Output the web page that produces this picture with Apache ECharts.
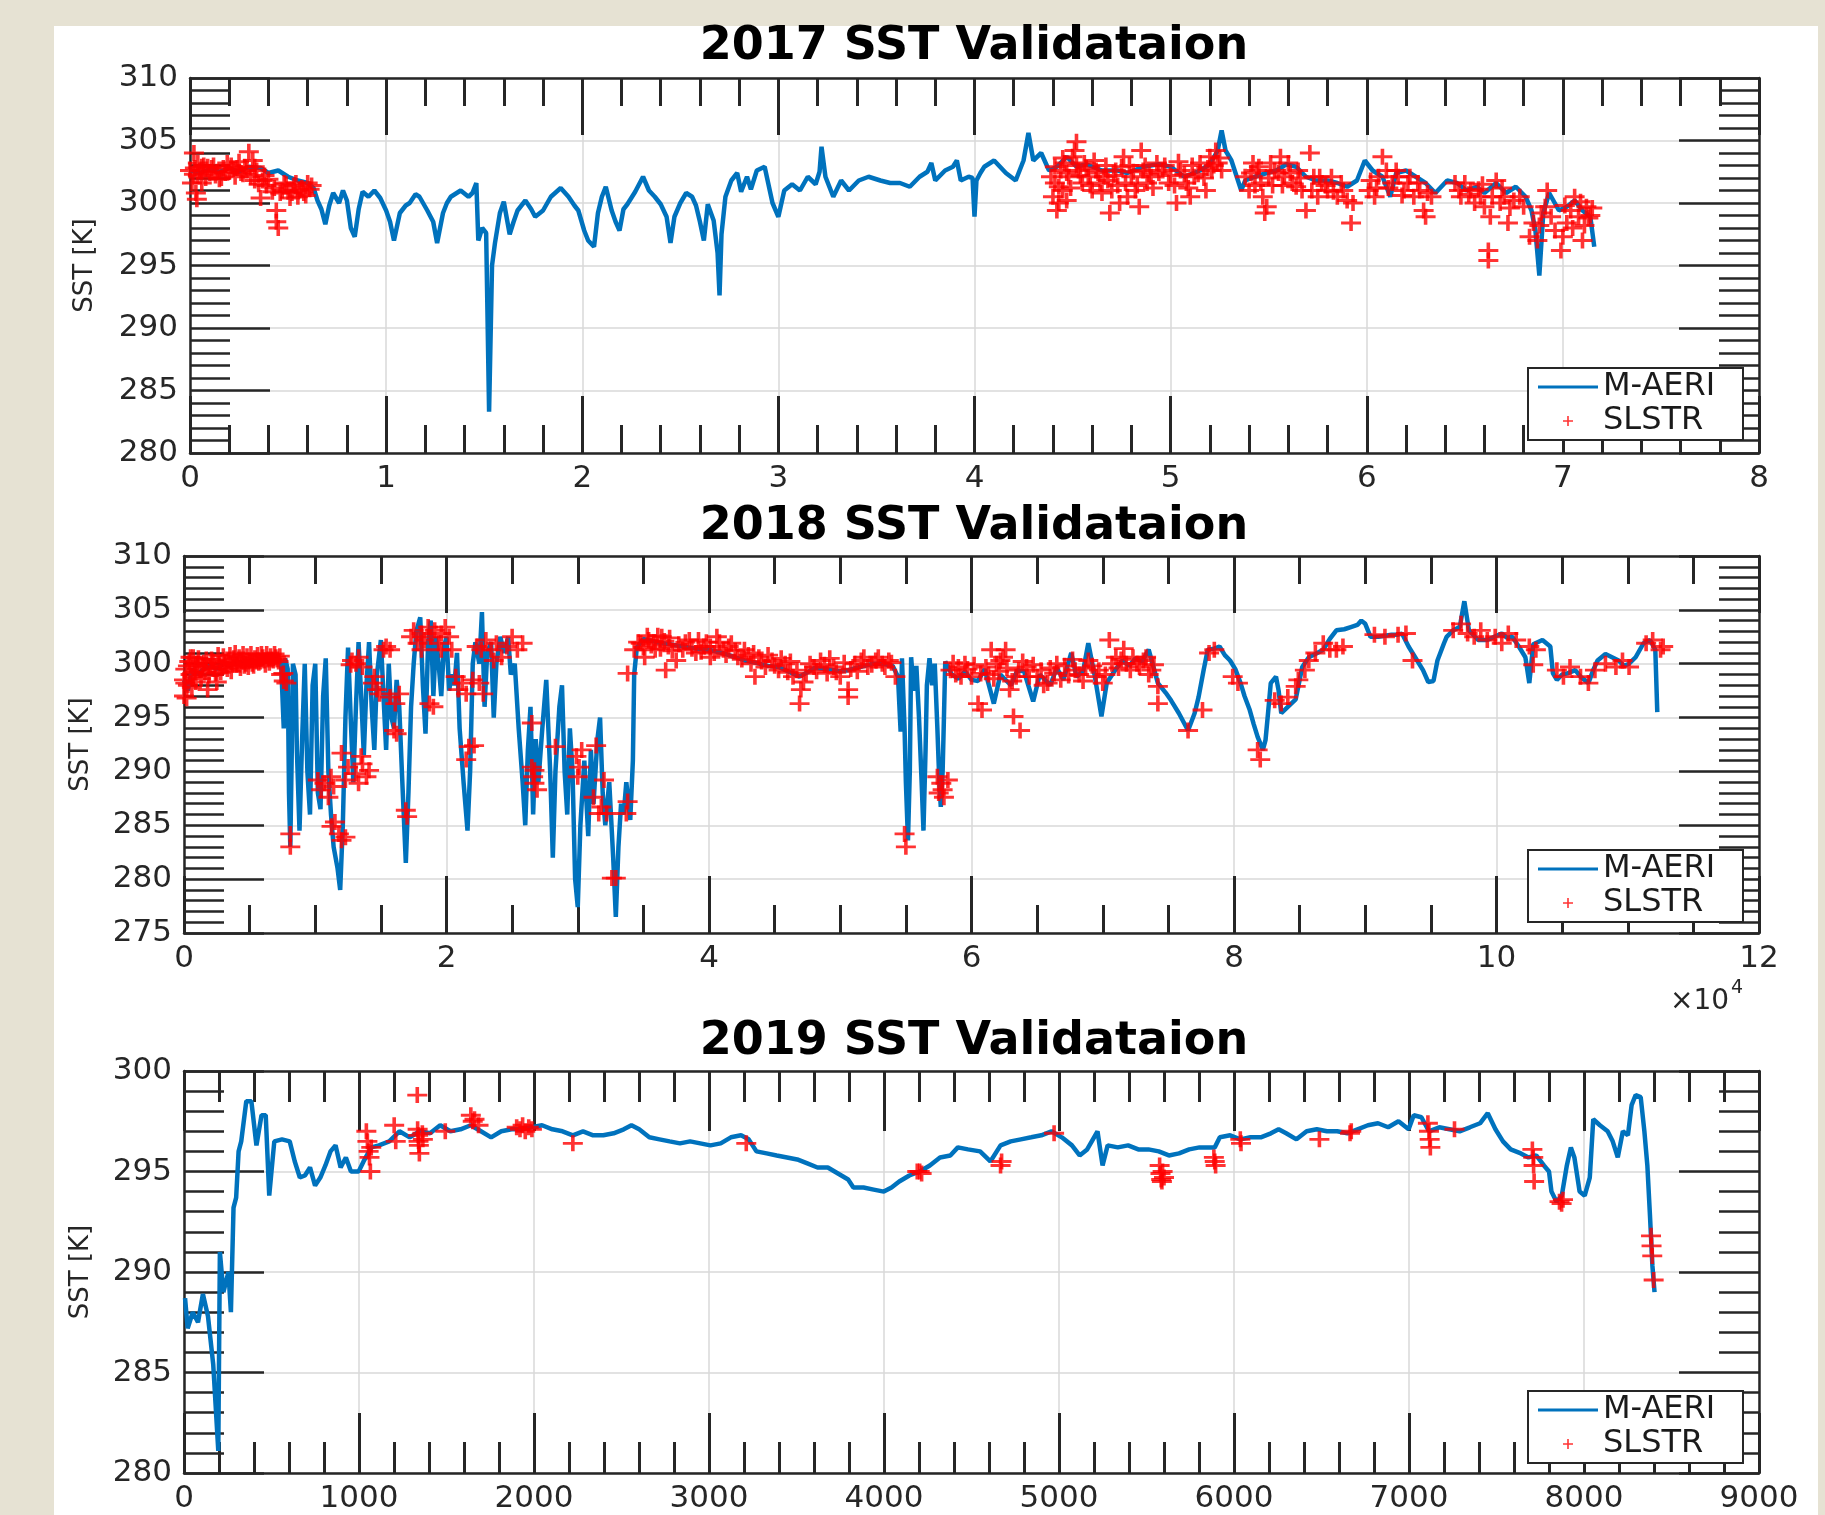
<!DOCTYPE html>
<html lang="en">
<head>
<meta charset="UTF-8">
<title>SST Validataion</title>
<script src="https://cdn.jsdelivr.net/npm/echarts@6/dist/echarts.min.js"></script>
<style>
html,body{margin:0;padding:0;background:#e6e2d3;}
#panel{position:absolute;left:54px;top:26px;width:1764px;height:1489px;background:#fff;}
#main{position:absolute;left:0;top:0;width:1825px;height:1515px;}
</style>
</head>
<body>
<div id="panel"></div>
<div id="main"></div>
<script>
var titles = ['2017 SST Validataion', '2018 SST Validataion', '2019 SST Validataion'];
var seriesNames = ['M-AERI', 'SLSTR'];

// x ranges [min, max, interval], y ranges [min, max, interval]
var xRanges = [[0, 8, 1], [0, 12, 2], [0, 9000, 1000]];
var yRanges = [[280, 310, 5], [275, 310, 5], [280, 300, 5]];
var xMinorSplits = [5, 4, 5];

// 2017 (x in units of 1e4)
var aeri2017 = [[0,302.6],[0.05,302.4],[0.1,302.7],[0.15,302.5],[0.2,302.8],[0.25,302.5],[0.3,302.9],[0.36,302.8],[0.4,302.4],[0.45,302.6],[0.5,302.1],[0.55,301.8],[0.6,301.6],[0.63,301.2],[0.65,300.2],[0.67,299.5],[0.69,298.3],[0.71,299.8],[0.73,300.8],[0.76,300],[0.78,301],[0.8,300.2],[0.82,298],[0.84,297.3],[0.86,299.5],[0.88,300.9],[0.91,300.5],[0.94,301],[0.97,300.4],[1.0,299.4],[1.02,298.5],[1.04,297],[1.07,299.2],[1.1,299.8],[1.12,300],[1.15,300.7],[1.17,300.5],[1.21,299.4],[1.24,298.5],[1.26,296.8],[1.29,299.2],[1.31,300],[1.33,300.5],[1.36,300.8],[1.38,301],[1.42,300.5],[1.44,300.8],[1.46,301.6],[1.47,297],[1.49,298],[1.51,297.6],[1.525,283.3],[1.54,295],[1.555,296.8],[1.58,299.2],[1.6,300.1],[1.63,297.5],[1.65,298.5],[1.67,299.4],[1.71,300.2],[1.74,299.5],[1.76,298.9],[1.8,299.4],[1.84,300.5],[1.89,301.2],[1.93,300.5],[1.96,299.8],[1.98,299.4],[2.01,297.8],[2.03,297],[2.06,296.5],[2.08,299.2],[2.1,300.5],[2.12,301.3],[2.15,299.4],[2.17,298.5],[2.19,297.8],[2.21,299.5],[2.23,299.9],[2.27,300.9],[2.31,302.1],[2.34,301],[2.37,300.5],[2.4,299.9],[2.43,298.9],[2.45,296.8],[2.47,298.9],[2.5,300],[2.53,300.8],[2.56,300.5],[2.58,299.8],[2.6,298.5],[2.62,297],[2.64,299.9],[2.67,298.6],[2.69,296],[2.7,292.6],[2.71,297.5],[2.73,300.5],[2.76,301.8],[2.79,302.4],[2.81,300.9],[2.84,302.1],[2.86,301.1],[2.89,302.6],[2.93,302.9],[2.97,300],[3.0,298.9],[3.03,301],[3.07,301.5],[3.11,301],[3.15,302.1],[3.19,301.5],[3.21,302.5],[3.22,304.5],[3.24,302.1],[3.28,300.5],[3.32,301.8],[3.36,301],[3.41,301.8],[3.46,302.1],[3.52,301.8],[3.57,301.6],[3.62,301.6],[3.67,301.3],[3.72,302.1],[3.76,302.5],[3.78,303.2],[3.8,301.8],[3.85,302.6],[3.89,302.9],[3.91,303.4],[3.93,301.8],[3.97,302.1],[3.99,302],[4.0,298.9],[4.01,301.8],[4.03,302.4],[4.05,302.9],[4.1,303.4],[4.16,302.4],[4.21,301.8],[4.25,303.4],[4.275,305.6],[4.3,303.4],[4.34,304],[4.38,302.6],[4.42,302.9],[4.47,303.7],[4.52,302.9],[4.57,303.1],[4.65,302.6],[4.73,302.6],[4.78,302.4],[4.86,302.9],[4.94,303.1],[5.0,302.9],[5.07,302.1],[5.15,302.6],[5.2,303.1],[5.24,304.2],[5.26,305.8],[5.28,304.2],[5.31,303.4],[5.36,301],[5.38,301.8],[5.43,302.1],[5.49,302.4],[5.54,302.6],[5.59,303.1],[5.64,302.9],[5.69,302.1],[5.74,301.8],[5.8,301.8],[5.85,301.6],[5.9,301.3],[5.95,301.8],[5.99,303.4],[6.03,302.6],[6.08,302.1],[6.12,300.5],[6.15,302.4],[6.2,302.6],[6.25,302.1],[6.3,301.6],[6.35,300.8],[6.41,301.8],[6.46,301.6],[6.51,301],[6.56,301.3],[6.6,300.8],[6.66,301.6],[6.71,300.8],[6.76,301.3],[6.81,300.5],[6.84,299.4],[6.86,297.8],[6.88,294.2],[6.9,299.2],[6.93,300.8],[6.98,299.4],[7.02,299.7],[7.06,300.2],[7.1,299.4],[7.14,298.9],[7.16,296.5]];

var slstr2017 = [[0.0,302.6],[0.01,301.6],[0.02,304.0],[0.025,302.8],[0.03,300.8],[0.035,300.3],[0.04,302.2],[0.05,302.6],[0.06,301.6],[0.07,303.0],[0.09,302.9],[0.1,302.4],[0.12,303.0],[0.13,302.2],[0.15,301.9],[0.17,302.8],[0.19,303.2],[0.2,302.5],[0.22,302.7],[0.25,303.3],[0.27,302.3],[0.28,302.9],[0.3,304.1],[0.31,302.1],[0.32,303.4],[0.33,301.8],[0.34,302.6],[0.35,301.5],[0.36,300.4],[0.38,302.2],[0.4,301.9],[0.43,301.2],[0.44,299.4],[0.44,298.5],[0.45,298.0],[0.46,300.8],[0.48,301.6],[0.5,300.9],[0.51,300.4],[0.53,301.4],[0.55,300.5],[0.57,301.2],[0.59,300.6],[0.61,301.1],[0.62,301.4],
[0.02,302.3],[0.04,303.2],[0.06,302.9],[0.08,302.0],[0.11,302.8],[0.14,302.5],[0.16,302.0],[0.18,302.4],[0.21,303.0],[0.23,302.1],[0.24,302.8],[0.26,302.4],[0.29,302.6],[0.33,302.9],[0.37,301.8],[0.39,301.4],[0.42,300.9],[0.47,301.0],[0.49,301.5],[0.52,300.8],[0.54,301.6],[0.56,301.0],[0.58,300.8],[0.6,301.6],
[4.39,302.1],[4.4,300.5],[4.41,301.6],[4.42,299.4],[4.43,300.0],[4.44,302.6],[4.45,301.0],[4.46,303.2],[4.47,300.2],[4.48,302.1],[4.5,303.7],[4.51,304.2],[4.52,304.9],[4.53,302.6],[4.55,301.6],[4.56,303.2],[4.58,302.1],[4.6,301.0],[4.62,302.6],[4.64,301.6],[4.66,302.1],[4.69,299.2],[4.7,301.0],[4.72,302.6],[4.74,300.0],[4.76,303.7],[4.77,301.6],[4.78,300.5],[4.8,302.1],[4.82,301.0],[4.84,299.7],[4.85,304.2],[4.86,302.6],[4.88,301.6],[4.9,302.1],[4.93,303.2],[4.96,302.6],[4.99,301.6],[5.03,300.0],[5.05,302.6],[5.08,301.6],[5.1,300.5],[5.12,302.1],[5.15,303.2],[5.18,301.0],[5.2,303.7],[5.21,302.6],[5.23,304.2],[5.24,303.2],[5.26,302.6],[5.38,302.1],[5.4,301.0],[5.42,303.2],[5.44,302.6],[5.46,301.6],[5.47,300.5],[5.48,299.2],[5.49,299.7],[5.51,303.2],[5.53,302.6],[5.56,303.7],[5.58,302.1],[5.6,303.2],[5.62,301.6],[5.65,302.6],[5.67,301.0],[5.69,299.4],[5.71,304.0],[5.73,302.1],[5.75,300.5],[5.77,301.6],[5.8,301.0],[5.82,302.1],[5.85,300.5],[5.88,301.0],[5.9,300.2],[5.92,298.4],[5.93,300.0],[6.01,301.0],[6.04,300.5],[6.06,302.1],[6.08,303.7],[6.1,302.6],[6.13,301.6],[6.16,302.1],[6.19,301.0],[6.21,301.6],[6.24,300.5],[6.27,301.0],[6.29,299.4],[6.3,298.9],[6.33,300.5],[6.45,301.6],[6.48,300.5],[6.5,301.6],[6.53,301.0],[6.55,300.0],[6.58,300.5],[6.6,299.7],[6.62,296.2],[6.62,295.4],[6.63,298.9],[6.64,300.5],[6.66,301.8],[6.68,300.0],[6.7,300.5],[6.72,298.4],[6.75,300.2],[6.8,299.7],[6.83,297.3],[6.85,298.4],[6.87,297.0],[6.89,299.2],[6.92,301.0],[6.94,298.9],[6.96,297.8],[6.99,296.2],[7.0,297.3],[7.02,298.4],[7.04,299.4],[7.06,300.5],[7.08,298.9],[7.1,297.0],[7.12,299.7],[7.14,299.0],
[4.41,302.9],[4.43,301.3],[4.45,303.6],[4.47,302.4],[4.49,301.2],[4.52,303.0],[4.54,302.2],[4.57,302.8],[4.59,301.4],[4.61,303.4],[4.63,302.4],[4.65,300.8],[4.67,303.0],[4.68,301.8],[4.71,302.2],[4.73,301.4],[4.75,302.9],[4.79,303.0],[4.81,302.5],[4.83,301.4],[4.87,303.0],[4.89,302.3],[4.91,301.2],[4.94,302.4],[4.97,303.0],[5.0,302.2],[5.02,301.4],[5.04,303.3],[5.07,302.3],[5.09,301.2],[5.11,303.0],[5.14,302.3],[5.17,302.0],[5.19,302.8],[5.22,303.0],[5.25,303.6],[5.41,302.4],[5.43,301.4],[5.45,302.9],[5.5,302.0],[5.52,301.4],[5.55,302.4],[5.57,301.4],[5.61,302.4],[5.64,301.3],[5.66,302.0],[5.72,301.0],[5.76,302.1],[5.79,301.4],[5.83,300.9],[5.87,301.6],[6.02,301.8],[6.05,301.2],[6.11,301.2],[6.15,302.6],[6.18,300.6],[6.22,302.1],[6.26,301.6],[6.31,300.8],[6.47,301.0],[6.52,300.7],[6.57,301.1],[6.59,301.5],[6.69,301.2],[6.73,299.6],[6.78,300.5],[6.88,298.2],[6.91,299.7],[7.01,299.8],[7.05,298.0],[7.09,300.1],[7.11,298.2],[7.13,298.8],[7.15,299.6]];

// 2018 (x in units of 1e4)
var aeri2018 = [[0,298.5],[0.03,297.5],[0.06,299.5],[0.1,299],[0.15,299.5],[0.2,299.8],[0.25,299.5],[0.3,300],[0.35,299.8],[0.4,300.2],[0.45,300],[0.5,300.3],[0.55,300.2],[0.6,300.5],[0.65,300.3],[0.7,300.5],[0.74,300],
[0.76,294],[0.77,300.5],[0.79,299.5],[0.8,288],[0.81,283],[0.82,291],[0.83,300],[0.85,299],[0.86,292],[0.88,284.5],[0.9,293],[0.92,300],[0.94,290],[0.96,286],[0.98,298],[1.0,300],[1.02,288],[1.04,286.5],[1.06,297],[1.08,300.5],[1.1,290],[1.12,286],[1.14,283],[1.17,281],[1.19,279],[1.21,285],[1.23,295],[1.25,301.5],[1.27,295],[1.29,289],[1.31,296],[1.33,302],[1.35,297],[1.37,291.5],[1.39,298],[1.41,302],[1.43,296],[1.45,292],[1.47,299],[1.5,302.2],[1.52,297],[1.54,292],[1.56,300],[1.58,295],[1.6,294],[1.62,298.5],[1.64,296],[1.66,290],[1.69,281.5],[1.71,288],[1.73,296],[1.75,300],[1.77,303],[1.8,304.3],[1.82,298],[1.84,293.5],[1.86,302],[1.88,304],[1.9,297],[1.92,302.5],[1.94,300],[1.96,297],[1.98,301.5],[2.0,302.5],[2.02,297.5],[2.04,299],[2.06,298],[2.08,301],[2.1,294],[2.13,289],[2.16,284.5],[2.18,290],[2.2,300],[2.22,302],[2.25,300],[2.27,304.8],[2.29,296],[2.31,301],[2.34,302],[2.36,295],[2.38,300],[2.41,302.5],[2.44,301],[2.47,302.5],[2.49,299],[2.52,300],[2.55,294],[2.58,289],[2.6,285],[2.62,292],[2.64,296],[2.66,286],[2.68,293],[2.7,289],[2.73,294],[2.76,298.5],[2.79,290],[2.81,282],[2.83,290],[2.86,296],[2.88,298],[2.9,290],[2.92,286],[2.94,294],[2.96,290],[2.98,280],[3.0,277.4],[3.02,285],[3.05,291],[3.08,284],[3.1,292],[3.12,287],[3.15,293],[3.17,295],[3.19,288],[3.21,285],[3.24,289],[3.27,282],[3.29,276.5],[3.31,283],[3.33,287],[3.35,286],[3.37,289],[3.4,285.5],[3.42,291],[3.43,299],
[3.45,301.5],[3.5,302.3],[3.6,302],[3.7,301.8],[3.8,301.6],[3.9,301.4],[4.0,301.3],[4.1,301],[4.2,300.6],[4.27,300.3],[4.35,300.1],[4.45,299.8],[4.53,299.7],[4.6,299.3],[4.69,298.8],[4.75,299.2],[4.8,299.6],[4.9,299.5],[5.0,299.3],[5.06,299.4],[5.15,299.7],[5.25,300],[5.32,300],[5.4,299.8],[5.44,298.8],
[5.46,293.7],[5.47,300.5],[5.49,294],[5.5,289],[5.516,283.6],[5.53,290],[5.54,300.6],[5.56,297.5],[5.58,299.8],[5.6,295],[5.62,289],[5.634,284.5],[5.65,292],[5.66,298],[5.68,300.5],[5.7,298],[5.72,300],[5.74,294],[5.755,289],[5.766,286.7],[5.78,290],[5.79,295],[5.8,300.2],
[5.85,299],[5.9,298.6],[5.95,299.3],[6.0,298.5],[6.05,298.4],[6.1,299.5],[6.17,296.3],[6.22,299],[6.3,298],[6.35,299.4],[6.4,299.3],[6.47,296.5],[6.52,299],[6.6,298],[6.65,299.6],[6.7,298.5],[6.76,301],[6.8,298.8],[6.85,299.3],[6.89,301.9],[6.94,298.8],[6.99,295.1],[7.03,298.2],[7.1,299.5],[7.15,300.3],[7.2,299.8],[7.25,300.5],[7.3,300.2],[7.35,301.3],[7.42,298.2],[7.48,297.3],[7.52,296.6],[7.58,295.4],[7.65,293.8],[7.7,295.4],[7.73,296.9],[7.77,299.5],[7.8,301.3],[7.85,301.4],[7.89,301.6],[7.93,300.8],[7.97,300.3],[8.01,299.5],[8.05,298.2],[8.08,297],[8.12,295.7],[8.15,294.4],[8.18,293.2],[8.22,292],[8.24,292.9],[8.26,295.5],[8.28,298.2],[8.32,298.8],[8.34,297.5],[8.36,295.4],[8.41,296],[8.47,296.7],[8.52,299.7],[8.57,300.6],[8.62,300.9],[8.68,301.3],[8.73,302.3],[8.78,303.1],[8.84,303.2],[8.89,303.4],[8.94,303.6],[8.97,304],[9.0,303.7],[9.04,302.5],[9.1,302.5],[9.15,302.6],[9.2,302.7],[9.25,302.7],[9.28,302.8],[9.33,301.6],[9.38,300.6],[9.44,299.4],[9.48,298.3],[9.52,298.4],[9.55,300.3],[9.6,301.9],[9.62,302.5],[9.67,303.1],[9.72,303.4],[9.755,305.8],[9.79,303.1],[9.86,302.2],[9.93,302.2],[10.0,302.6],[10.04,302.8],[10.08,302.4],[10.12,302.5],[10.17,301.6],[10.22,300.6],[10.25,298.2],[10.28,301.8],[10.35,302.2],[10.41,301.6],[10.43,299.1],[10.46,298.5],[10.5,299],[10.54,299.1],[10.6,299.4],[10.64,298.8],[10.7,298.2],[10.74,299.5],[10.77,300.3],[10.83,300.9],[10.88,300.6],[10.93,300.3],[10.97,299.8],[11.01,300],[11.06,300.6],[11.12,301.9],[11.17,302.2],[11.21,301.3],[11.225,295.5]];

var slstr2018 = [[0.0,297.0],[0.0,298.5],[0.01,299.5],[0.02,296.8],[0.03,298.0],[0.04,300.2],[0.05,299.0],[0.06,297.8],[0.07,300.6],[0.08,299.2],[0.09,298.3],[0.1,300.0],[0.12,299.4],[0.13,298.6],[0.15,300.1],[0.16,299.2],[0.18,297.6],[0.2,299.8],[0.21,300.4],[0.23,299.5],[0.25,298.3],[0.27,300.0],[0.29,299.6],[0.3,300.7],[0.32,299.8],[0.34,300.3],[0.36,299.3],[0.38,300.5],[0.4,299.9],[0.42,300.6],[0.44,300.2],[0.46,299.8],[0.48,300.7],[0.5,300.3],[0.52,300.0],[0.54,300.5],[0.56,300.8],[0.58,300.2],[0.6,300.6],[0.62,299.9],[0.64,300.4],[0.66,300.7],[0.68,300.3],[0.7,300.6],[0.72,300.2],[0.74,299.0],[0.76,298.4],
[0.01,298.2],[0.03,299.8],[0.05,300.6],[0.07,298.8],[0.09,299.8],[0.11,300.5],[0.14,299.7],[0.17,300.4],[0.19,298.9],[0.22,300.2],[0.24,299.1],[0.26,300.8],[0.28,299.2],[0.31,300.1],[0.33,299.5],[0.35,300.8],[0.37,299.9],[0.39,301.0],[0.41,300.0],[0.43,299.6],[0.45,300.9],[0.47,300.0],[0.49,299.7],[0.51,300.9],[0.53,299.8],[0.55,300.2],[0.57,300.1],[0.59,300.9],[0.61,300.3],[0.63,300.9],[0.65,300.1],[0.67,300.4],[0.69,300.9],[0.71,300.4],[0.73,300.7],
[0.757,299.1],[0.78,298.2],[0.81,284.2],[0.81,283.0],[1.02,289.2],[1.045,288.3],[1.07,288.9],[1.1,287.6],[1.12,289.5],[1.14,288.6],[1.124,284.9],[1.18,284.2],[1.23,283.9],[1.15,285.3],[1.2,283.6],[1.2,291.7],[1.25,290.4],[1.31,289.8],[1.36,290.7],[1.39,289.5],[1.33,288.9],[1.41,290.1],[1.35,291.4],[1.23,289.2],[1.28,300.3],[1.31,300.0],[1.33,300.6],[1.36,299.7],[1.27,299.9],[1.44,298.2],[1.47,297.6],[1.49,297.2],[1.45,298.8],[1.54,301.6],[1.57,301.3],[1.52,301.3],[1.57,296.9],[1.61,296.3],[1.64,297.2],[1.6,293.8],[1.62,293.5],[1.69,286.4],[1.7,285.8],
[1.73,302.5],[1.75,303.1],[1.78,301.9],[1.81,302.8],[1.83,302.2],[1.86,303.4],[1.88,302.5],[1.91,303.1],[1.94,301.9],[1.96,302.8],[1.99,303.4],[2.02,302.5],[2.04,301.3],[1.81,301.3],[1.96,301.3],[1.87,296.3],[1.9,296.0],[2.07,298.8],[2.09,297.6],[2.12,298.2],[2.15,297.2],[2.2,298.5],[2.25,298.2],[2.28,297.2],[2.17,292.3],[2.15,291.1],[2.21,292.4],
[2.23,301.6],[2.265,301.3],[2.3,302.2],[2.34,301.3],[2.38,301.9],[2.42,300.6],[2.46,301.6],[2.5,302.5],[2.54,301.3],[2.58,301.9],[2.36,300.3],[2.65,294.5],[2.65,290.4],[2.66,289.5],[2.67,288.9],[2.69,288.3],[2.67,290.1],[2.83,292.3],[2.99,291.4],[3.01,290.4],[3.0,289.5],[3.03,292.0],[3.12,287.6],[3.16,286.1],[3.14,292.4],[3.2,289.2],[3.22,286.1],[3.18,286.7],[3.26,280.1],[3.29,280.1],[3.37,286.1],[3.38,287.2],[3.38,299.1],
[3.43,301.3],[3.48,301.9],[3.54,302.2],[3.59,301.3],[3.64,302.5],[3.69,301.6],[3.75,300.3],[3.8,301.3],[3.85,302.2],[3.9,301.0],[3.96,301.6],[4.01,300.6],[3.51,300.6],[3.67,299.4],
[3.46,302.0],[3.5,301.5],[3.53,302.6],[3.56,301.7],[3.58,302.0],[3.61,302.6],[3.63,301.4],[3.66,302.1],[3.7,302.4],[3.72,301.2],[3.77,301.8],[3.82,302.0],[3.87,301.4],[3.92,302.2],[3.94,301.1],[3.98,302.0],[4.04,301.0],[4.08,302.0],[4.13,300.8],[4.15,301.6],[4.2,301.2],[4.25,300.4],[4.3,300.8],[4.34,301.0],[4.4,300.2],[4.45,300.8],[4.5,299.8],[4.55,300.5],[4.6,299.2],[4.62,300.2],[4.67,299.4],[4.72,298.3],[4.77,300.0],[4.82,299.3],[4.88,299.9],[4.92,300.5],[4.97,299.2],[5.03,300.1],[5.08,299.5],[5.13,299.3],[5.18,300.6],[5.24,299.9],[5.29,300.6],[5.34,299.7],[5.39,300.1],
[4.01,301.6],[4.06,302.5],[4.11,301.3],[4.17,301.9],[4.22,300.6],[4.27,301.3],[4.32,300.0],[4.35,298.8],[4.38,300.6],[4.43,299.7],[4.48,300.3],[4.53,299.4],[4.58,300.0],[4.64,298.8],[4.69,296.3],[4.7,297.6],[4.74,299.1],[4.8,299.7],[4.85,300.3],[4.9,299.1],[4.95,299.7],[5.0,298.8],[5.06,297.6],[5.06,296.9],[5.11,300.0],[5.16,300.3],[5.21,299.7],[5.27,300.3],[5.32,300.0],[5.37,300.3],[5.42,298.8],[5.49,284.2],[5.5,283.0],
[5.74,289.5],[5.77,288.9],[5.79,287.6],[5.78,288.3],[5.82,289.2],[5.75,288.0],
[5.84,299.4],[5.9,299.7],[5.95,300.0],[6.0,298.8],[6.05,296.3],[6.08,295.7],[6.11,299.7],[6.15,301.3],[6.19,300.0],[6.24,300.6],[6.26,301.3],[6.29,297.6],[6.32,295.1],[6.37,293.8],[6.34,298.8],[6.42,299.7],[6.5,298.8],[6.58,298.2],[6.63,299.1],[6.68,298.5],[6.79,299.4],[6.89,300.3],[6.95,298.8],[7.0,298.2],[7.05,302.2],[7.1,300.6],[7.16,301.4],[7.21,299.4],[7.26,300.0],[7.31,300.3],[7.37,299.4],[7.42,297.9],[7.42,296.3],[7.65,293.8],[7.76,295.7],[7.81,301.0],[7.85,301.3],[7.99,298.8],[8.03,298.2],
[5.86,300.1],[5.88,299.0],[5.92,298.8],[5.97,299.5],[6.02,299.9],[6.07,299.1],[6.13,299.0],[6.17,298.6],[6.21,299.3],[6.22,300.3],[6.27,299.6],[6.31,298.4],[6.36,299.4],[6.39,300.2],[6.44,298.8],[6.47,299.9],[6.53,299.4],[6.55,298.0],[6.6,299.6],[6.65,300.0],[6.71,299.8],[6.74,298.9],[6.77,300.4],[6.82,299.0],[6.85,298.4],[6.87,299.6],[6.92,299.8],[6.97,299.4],[7.02,299.0],[7.07,300.0],[7.12,299.6],[7.14,300.4],[7.18,300.0],[7.23,300.6],[7.28,299.7],[7.33,300.6],[7.35,299.0],[7.39,299.9],
[8.18,292.0],[8.2,291.1],[8.31,296.6],[8.36,296.3],[8.41,296.9],[8.47,297.9],[8.49,298.5],[8.54,299.4],[8.57,300.3],[8.62,301.0],[8.68,301.9],[8.73,301.3],[8.78,301.3],[8.83,301.6],[9.07,302.7],[9.15,302.5],[9.25,302.7],[9.31,302.8],[9.36,300.3],
[9.67,303.1],[9.73,303.7],[9.78,302.8],[9.83,302.5],[9.88,303.1],[9.93,302.2],[9.99,302.5],[10.04,301.9],[10.09,302.8],[10.15,302.2],[10.25,301.6],[10.28,299.9],[10.3,301.3],
[10.46,299.4],[10.51,298.8],[10.56,299.7],[10.64,298.8],[10.7,298.2],[10.75,299.4],[10.83,300.0],[10.91,299.7],[10.96,300.3],[11.01,299.7],[11.14,301.9],[11.19,302.2],[11.25,301.3],[11.27,301.6]];

// 2019 (x in samples)
var aeri2019 = [[6,288.7],[21,287.2],[50,288],[80,287.5],[108,288.9],[137,287.8],[167,285.4],[196,281.1],[205,291],[225,289],[254,290],[268,288],[283,293.2],[298,293.7],[312,296],[327,296.5],[356,298.5],[385,298.5],[414,296.3],[443,297.8],[467,297.8],[487,293.8],[516,296.5],[560,296.6],[604,296.5],[633,295.5],[662,294.7],[691,294.8],[720,295.2],[749,294.3],[779,294.7],[808,295.3],[837,296],[866,296.3],[895,295.2],[925,295.7],[954,295],[998,295],[1026,295.5],[1070,296.2],[1114,296.3],[1173,296.5],[1231,297],[1290,296.7],[1347,297],[1406,296.9],[1464,297.3],[1522,297],[1580,297.1],[1639,297.3],[1697,297],[1755,296.7],[1813,297],[1872,297.1],[1930,297.1],[1988,297.2],[2046,297.3],[2105,297.1],[2163,297],[2222,296.8],[2280,297],[2338,296.8],[2396,296.8],[2455,296.9],[2513,297.1],[2557,297.3],[2601,297.1],[2659,296.7],[2717,296.6],[2775,296.5],[2834,296.4],[2892,296.5],[2950,296.4],[3008,296.3],[3067,296.4],[3125,296.7],[3183,296.8],[3227,296.6],[3271,296],[3329,295.9],[3387,295.8],[3446,295.7],[3504,295.6],[3562,295.4],[3620,295.2],[3679,295.2],[3737,294.9],[3795,294.6],[3825,294.2],[3883,294.2],[3941,294.1],[3999,294],[4043,294.2],[4087,294.5],[4145,294.8],[4204,295],[4262,295.3],[4320,295.7],[4379,295.8],[4422,296.2],[4480,296.1],[4549,296],[4608,295.5],[4666,296.3],[4724,296.5],[4782,296.6],[4841,296.7],[4899,296.8],[4957,297],[5016,296.7],[5074,296.3],[5118,295.8],[5161,296.1],[5220,297],[5249,295.3],[5278,296.3],[5336,296.2],[5395,296.3],[5453,296.1],[5511,296.1],[5570,296],[5628,295.8],[5686,295.9],[5744,296.1],[5803,296.2],[5847,296.2],[5890,296.2],[5919,296.7],[5978,296.8],[6036,296.6],[6094,296.7],[6153,296.7],[6211,296.9],[6255,297.1],[6298,296.9],[6357,296.6],[6415,297],[6473,297.1],[6531,297],[6590,297],[6648,296.9],[6706,297.1],[6765,297.3],[6823,297.4],[6881,297.2],[6940,297.5],[6998,297.1],[7027,297.8],[7071,297.7],[7114,297],[7173,297.2],[7231,297.1],[7289,297],[7348,297.2],[7406,297.4],[7450,297.9],[7494,297.1],[7537,296.5],[7581,296.1],[7639,295.9],[7683,295.7],[7727,295.8],[7771,295.3],[7800,295],[7814,294],[7843,293.5],[7873,293.8],[7902,295.3],[7925,296.2],[7945,295.7],[7975,294],[8004,293.8],[8033,294.7],[8053,297.6],[8091,297.3],[8135,297],[8164,296.5],[8193,295.7],[8222,297],[8251,296.8],[8272,298.3],[8295,298.8],[8324,298.7],[8345,297],[8362,295.3],[8377,292.8],[8391,290.3],[8403,289]];

var slstr2019 = [[1042,297],[1048,296.5],[1055,296],[1060,295.7],[1065,295],[1070,296.2],[1201,297.3],[1210,296.5],[1333,298.8],[1335,297.1],[1338,296.8],[1340,296.5],[1342,296.3],[1345,295.9],[1362,296.9],[1365,296.6],[1493,297],[1639,297.8],[1650,297.5],[1660,297.6],[1683,297.3],[1901,297.2],[1920,297.1],[1935,297.3],[1950,297],[1970,297.2],[1988,297.1],[2222,296.4],[3213,296.4],[4190,295],[4204,295],[4215,294.9],[4666,295.3],[4672,295.5],[4972,296.9],[5575,295.3],[5580,294.9],[5584,294.6],[5588,294.5],[5592,295],[5600,294.7],[5885,295.7],[5890,295.5],[5895,295.3],[6036,296.6],[6040,296.4],[6488,296.6],[6663,296.9],[6670,297],[7108,297.4],[7114,297],[7118,296.6],[7122,296.2],[7260,297.1],[7705,296.1],[7710,295.7],[7712,295.3],[7715,294.5],[7860,293.5],[7872,293.4],[7880,293.6],[8383,291.8],[8386,291.3],[8390,290.8],[8398,289.6]];

var lines = [aeri2017, aeri2018, aeri2019];
var marks = [slstr2017, slstr2018, slstr2019];

var font = 'DejaVu Sans';
var ink = '#262626';
var blue = '#0072bd';
var red = '#ff0000';
var plusPath = 'path://M4.1,0H5.9V4.1H10V5.9H5.9V10H4.1V5.9H0V4.1H4.1Z';
var legendLine = 'path://M0,0M60,12M0,4.4H60V7.6H0Z';
var legendPlus = 'path://M0,0M60,12M29.2,1H30.8V5.2H35V6.8H30.8V11H29.2V6.8H25V5.2H29.2Z';

var grids = [
    {left: 190, top: 78, width: 1569, height: 375},
    {left: 184, top: 556, width: 1575, height: 377},
    {left: 184, top: 1071, width: 1575, height: 402}
];
var titleTops = [24, 504, 1019];
var legendTops = [368, 850, 1391];

var myChart = echarts.init(document.getElementById('main'));

function plainNumber(v) {
    return String(v);
}

function xAxisFor(i, pos) {
    var r = xRanges[i];
    var tall = i === 2;
    return {
        type: 'value', gridIndex: i, position: pos,
        min: r[0], max: r[1], interval: r[2],
        axisLine: {show: true, onZero: false, lineStyle: {color: ink, width: 2.5}},
        axisTick: {show: true, inside: true, length: tall ? 60 : 57, lineStyle: {color: ink, width: 3}},
        minorTick: {show: true, splitNumber: xMinorSplits[i], length: tall ? 31 : 28, lineStyle: {color: ink, width: 3}},
        axisLabel: {show: pos === 'bottom', margin: 10, color: ink, fontFamily: font, fontSize: 31, formatter: plainNumber},
        splitLine: {show: pos === 'bottom', lineStyle: {color: '#d9d9d9', width: 1.5}},
        minorSplitLine: {show: false}
    };
}

function yAxisFor(i, pos) {
    var r = yRanges[i];
    var left = pos === 'left';
    return {
        type: 'value', gridIndex: i, position: pos,
        min: r[0], max: r[1], interval: r[2],
        axisLine: {show: true, onZero: false, lineStyle: {color: ink, width: 2.5}},
        axisTick: {show: true, inside: true, length: 80, lineStyle: {color: ink, width: 2.5}},
        minorTick: {show: true, splitNumber: 5, length: 40, lineStyle: {color: ink, width: 2.5}},
        axisLabel: {show: left, margin: 12, color: ink, fontFamily: font, fontSize: 31, formatter: plainNumber},
        splitLine: {show: left, lineStyle: {color: '#d9d9d9', width: 1.5}},
        minorSplitLine: {show: false},
        name: left ? 'SST [K]' : '',
        nameLocation: 'middle',
        nameGap: i === 0 ? 92 : 90,
        nameRotate: 90,
        nameTextStyle: {fontFamily: font, fontSize: 26, color: ink}
    };
}

var xAxes = [], yAxes = [], series = [];
for (var i = 0; i < 3; i++) {
    xAxes.push(xAxisFor(i, 'bottom'), xAxisFor(i, 'top'));
    yAxes.push(yAxisFor(i, 'left'), yAxisFor(i, 'right'));
    series.push({
        name: seriesNames[0], type: 'line',
        xAxisIndex: 2 * i, yAxisIndex: 2 * i,
        data: lines[i], showSymbol: false, symbol: 'none',
        lineStyle: {color: blue, width: 4.5}, itemStyle: {color: blue},
        z: 2
    });
    series.push({
        name: seriesNames[1], type: 'scatter',
        xAxisIndex: 2 * i, yAxisIndex: 2 * i,
        data: marks[i], symbol: plusPath, symbolSize: [20, 16],
        itemStyle: {color: red},
        z: 3
    });
}

var option = {
    backgroundColor: 'transparent',
    animation: false,
    title: titles.map(function (t, k) {
        return {
            text: t, left: 974, top: titleTops[k], textAlign: 'center', padding: 0,
            textStyle: {fontFamily: font, fontWeight: 'bold', fontSize: 46, color: '#000', lineHeight: 46}
        };
    }),
    grid: grids.map(function (g) {
        return {left: g.left, top: g.top, width: g.width, height: g.height, containLabel: false, outerBoundsMode: 'none'};
    }),
    legend: legendTops.map(function (t) {
        return {
            orient: 'vertical', left: 1528, top: t,
            padding: [3, 8, 3, 10], itemGap: 2, itemWidth: 60, itemHeight: 12,
            borderColor: ink, borderWidth: 2, borderRadius: 0, backgroundColor: '#fff',
            itemStyle: {borderWidth: 0},
            selectedMode: false,
            textStyle: {fontFamily: font, fontSize: 32, color: '#1a1a1a', width: 132, lineHeight: 32},
            data: [{name: seriesNames[0], icon: legendLine}, {name: seriesNames[1], icon: legendPlus}]
        };
    }),
    xAxis: xAxes,
    yAxis: yAxes,
    series: series,
    graphic: [
        {type: 'text', left: 1670, top: 988, style: {text: '\u00d710', font: '28px "DejaVu Sans"', fill: ink}},
        {type: 'text', left: 1731, top: 979, style: {text: '4', font: '19px "DejaVu Sans"', fill: ink}}
    ]
};
myChart.setOption(option);
</script>
</body>
</html>
